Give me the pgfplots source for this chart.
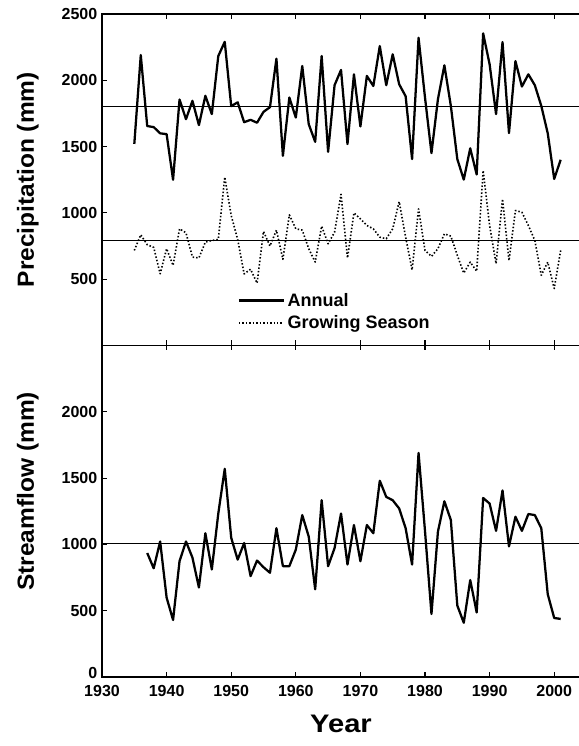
\documentclass[border=0pt]{standalone}
\usepackage{pgfplots}
\pgfplotsset{compat=1.18}
\usepackage{graphicx}
\usepackage{fontspec}
\setmainfont{Liberation Sans}
\newcommand{\ylab}[1]{\fontsize{17.5}{17.5}\selectfont\bfseries\scalebox{1.05}[1]{#1}}
\newcommand{\xlab}[1]{\fontsize{19}{19}\selectfont\bfseries\scalebox{1.15}[1]{#1}}
\pgfplotsset{
  myax/.style={
    scale only axis, width=358.5pt, height=248.6pt,
    xmin=1930, xmax=2004, ymin=0, ymax=2500,
    xtick={1930,1940,...,2000}, ytick={0,500,...,2500},
    tick align=inside, xtick pos=both, ytick pos=left,
    major tick length=3.75pt,
    axis line style={line width=0.8pt},
    every tick/.style={black, line width=0.8pt},
    tick label style={font=\fontsize{12}{12}\selectfont\bfseries},
    xticklabel style={yshift=-2.5pt},
    /pgf/number format/assume math mode=true,
    /pgf/number format/1000 sep={},
    no markers,
  },
  meanline/.style={black, line width=0.8pt, forget plot},
  mainline/.style={black, line width=1.7pt, line join=round},
}
\pgfplotstableread{
year annual grow
1935 1520 717
1936 2190 835
1937 1655 760
1938 1647 740
1939 1600 541
1940 1594 730
1941 1250 604
1942 1855 880
1943 1707 850
1944 1845 667
1945 1662 660
1946 1883 780
1947 1745 792
1948 2183 800
1949 2290 1270
1950 1805 980
1951 1834 800
1952 1684 540
1953 1702 575
1954 1680 470
1955 1762 860
1956 1797 750
1957 2163 870
1958 1431 650
1959 1870 985
1960 1719 880
1961 2108 870
1962 1669 730
1963 1536 629
1964 2183 900
1965 1461 767
1966 1963 855
1967 2078 1140
1968 1519 660
1969 2045 1000
1970 1652 955
1971 2033 905
1972 1957 880
1973 2258 817
1974 1963 805
1975 2196 880
1976 1970 1085
1977 1880 817
1978 1406 570
1979 2321 1030
1980 1870 717
1981 1451 672
1982 1857 730
1983 2113 842
1984 1807 825
1985 1406 680
1986 1251 546
1987 1487 629
1988 1290 560
1989 2354 1320
1990 2121 905
1991 1745 617
1992 2288 1105
1993 1602 640
1994 2145 1018
1995 1953 1005
1996 2045 905
1997 1963 792
1998 1807 530
1999 1600 629
2000 1256 430
2001 1401 717
}\precip
\pgfplotstableread{
year flow
1937 935
1938 820
1939 1022
1940 599
1941 430
1942 873
1943 1022
1944 900
1945 675
1946 1084
1947 811
1948 1233
1949 1570
1950 1050
1951 885
1952 1010
1953 761
1954 878
1955 828
1956 786
1957 1122
1958 836
1959 836
1960 960
1961 1221
1962 1059
1963 661
1964 1333
1965 836
1966 972
1967 1233
1968 848
1969 1146
1970 873
1971 1146
1972 1084
1973 1480
1974 1358
1975 1333
1976 1271
1977 1122
1978 848
1979 1690
1980 1100
1981 475
1982 1096
1983 1325
1984 1184
1985 539
1986 409
1987 731
1988 487
1989 1350
1990 1308
1991 1102
1992 1407
1993 985
1994 1209
1995 1102
1996 1229
1997 1221
1998 1122
1999 624
2000 445
2001 438
}\flow
\begin{document}
\begin{tikzpicture}
\begin{axis}[myax, name=top,
  xticklabels={},
  yticklabels={,500,1000,1500,2000,2500},
  ylabel={\ylab{Precipitation (mm)}},
  every axis y label/.style={at={(axis description cs:-0.155,0.5)}, rotate=90, anchor=center},
  legend cell align=left,
  legend image code/.code={\draw[#1] (0pt,0pt) -- (33.75pt,0pt);},
  legend style={draw=none, fill=none, font=\fontsize{13.5}{13.5}\selectfont\bfseries,
    at={(axis description cs:0.275,0.175)}, anchor=north west, row sep=1.5pt},
]
\addplot[meanline] coordinates {(1930,1800) (2004,1800)};
\addplot[meanline] coordinates {(1930,790) (2004,790)};
\addplot[mainline] table[x=year, y=annual] {\precip};
\addlegendentry{Annual}
\addplot[black, line width=1.2pt, dash pattern=on 1.1pt off 1.5pt, line join=round] table[x=year, y=grow] {\precip};
\addlegendentry{Growing Season}
\end{axis}
\begin{axis}[myax, name=bot, at={(top.south west)}, anchor=north west,
  ytick={500,1000,...,2500},
  yticklabels={500,1000,1500,2000,},
  extra y ticks={0},
  extra y tick labels={0},
  extra y tick style={yticklabel style={yshift=3pt}},
  ylabel={\ylab{Streamflow (mm)}},
  every axis y label/.style={at={(axis description cs:-0.155,0.56)}, rotate=90, anchor=center},
  xlabel={\xlab{Year}},
  every axis x label/.style={at={(axis description cs:0.5,-0.142)}, anchor=center},
]
\addplot[meanline] coordinates {(1930,1010) (2004,1010)};
\addplot[mainline] table[x=year, y=flow] {\flow};
\end{axis}
\pgfresetboundingbox
\path[use as bounding box] ([shift={(-76.5pt,10.5pt)}]top.north west) rectangle ([shift={(357pt,-51.75pt)}]bot.south west);
\end{tikzpicture}
\end{document}
